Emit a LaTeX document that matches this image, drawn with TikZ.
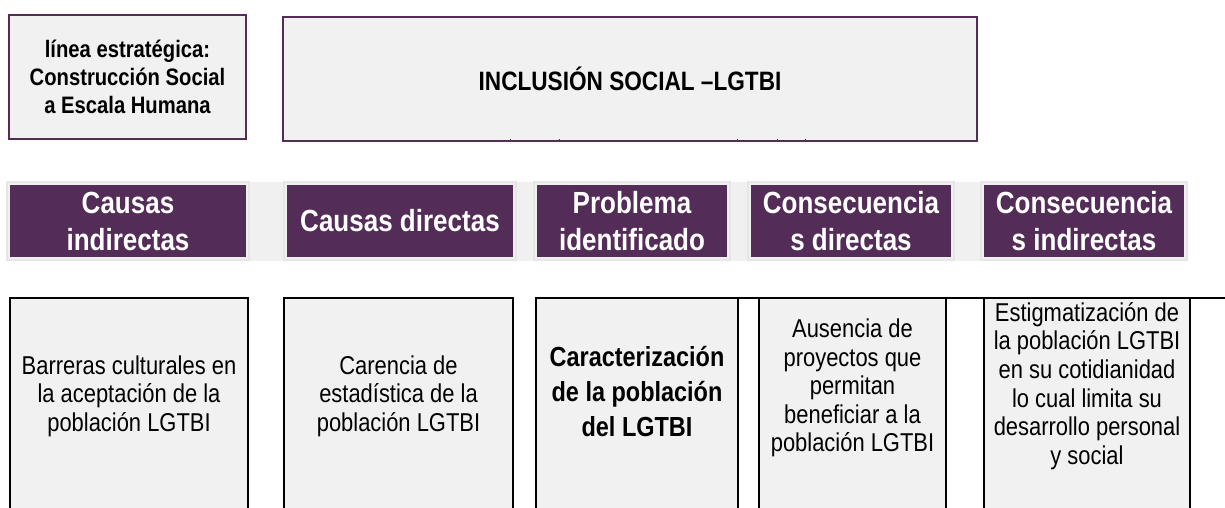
\documentclass[tikz,border=0pt]{standalone}
\usepackage{fontspec}
\setmainfont{Liberation Sans}[FakeStretch=0.85]
\AtBeginDocument{\lineskiplimit=-50pt\relax}
\definecolor{hdr}{RGB}{83,44,88}
\definecolor{cellgray}{RGB}{241,241,241}
\definecolor{bandgray}{RGB}{240,240,240}
\definecolor{framegray}{RGB}{230,230,230}
\tikzset{
  topbox/.style={draw=hdr, fill=cellgray, line width=1.5pt, inner sep=0pt, align=center,
    font=\bfseries\fontsize{23.8}{28}\selectfont},
  hbox/.style={fill=hdr, text=white, inner sep=0pt, align=center,
    minimum height=72pt, font=\bfseries\fontsize{30.6}{37}\selectfont},
  hframe/.style={draw=framegray, line width=2pt},
  cellfill/.style={fill=cellgray},
  cellline/.style={draw=black, line width=2pt},
  celltext/.style={align=center, inner sep=0pt, font=\fontsize{25.8}{28.6}\selectfont},
  cellbold/.style={align=center, inner sep=0pt, font=\bfseries\fontsize{27.6}{35}\selectfont},
  tick/.style={draw=hdr, line width=1pt}
}
\begin{document}
\begin{tikzpicture}[x=1pt,y=-1pt]
\useasboundingbox (0,0) rectangle (1225,508);
\clip (0,0) rectangle (1225,508);

% ---- top row
\node[topbox, minimum width=237pt, minimum height=124pt] (linea) at (127.5,77)
  {línea estratégica:\\Construcción Social\\a Escala Humana};
\node[topbox, minimum width=694pt, minimum height=124pt, font=\bfseries\fontsize{26.6}{32}\selectfont] (incl) at (630,79)
  {INCLUSIÓN SOCIAL –LGTBI};
\foreach \tx in {510,559,737,777,805}{
  \draw[tick] (\tx,139) -- (\tx,142);
}

% ---- header band
\fill[bandgray] (6,182) rectangle (1188,261);
\node[hbox, minimum width=236pt] (ci) at (128,221) {Causas\\indirectas};
\node[hbox, minimum width=226pt] (cd) at (400,221) {Causas directas};
\node[hbox, minimum width=190pt] (pi) at (632,221) {Problema\\identificado};
\node[hbox, minimum width=200pt] (cod) at (851,221) {Consecuencia\\s directas};
\node[hbox, minimum width=200pt] (coi) at (1084,221) {Consecuencia\\s indirectas};
\foreach \n in {ci,cd,pi,cod,coi}{
  \draw[hframe] ([shift={(-2.5,-2.5)}]\n.north west) rectangle ([shift={(2.5,2.5)}]\n.south east);
}

% ---- bottom row cells
\path[cellfill] (10,298) rectangle (248,520);
\path[cellfill] (284,298) rectangle (513,520);
\path[cellfill] (536,298) rectangle (738,520);
\path[cellfill] (759,298) rectangle (946,520);
\path[cellfill] (984,298) rectangle (1190,520);
\draw[cellline] (10,520) -- (10,298) -- (248,298) -- (248,520);
\draw[cellline] (284,520) -- (284,298) -- (513,298) -- (513,520);
\draw[cellline] (536,520) -- (536,298) -- (1225,298);
\draw[cellline] (738,298) -- (738,520);
\draw[cellline] (759,298) -- (759,520);
\draw[cellline] (946,298) -- (946,520);
\draw[cellline] (984,298) -- (984,520);
\draw[cellline] (1190,298) -- (1190,520);

\node[celltext] (b1) at (129,396) {Barreras culturales en\\la aceptación de la\\población LGTBI};
\node[celltext] (b2) at (398.5,396) {Carencia de\\estadística de la\\población LGTBI};
\node[cellbold] (b3) at (637,392) {Caracterización\\de la población\\del LGTBI};
\node[celltext] (b4) at (852.5,388) {Ausencia de\\proyectos que\\permitan\\beneficiar a la\\población LGTBI};
\node[celltext] (b5) at (1087,386) {Estigmatización de\\la población LGTBI\\en su cotidianidad\\lo cual limita su\\desarrollo personal\\y social};
\end{tikzpicture}
\end{document}
